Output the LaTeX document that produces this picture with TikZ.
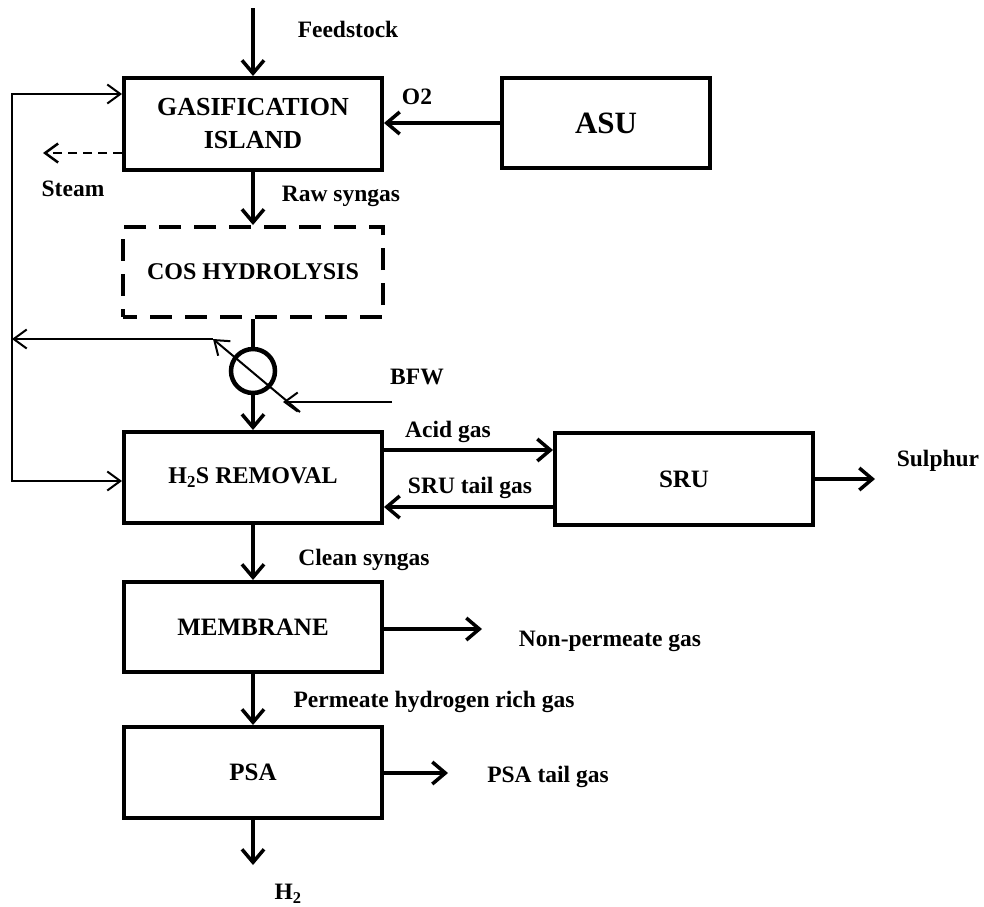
\documentclass[tikz,border=0pt]{standalone}
\usepackage{fontspec}
\setmainfont{Liberation Serif}
\usetikzlibrary{arrows.meta}
\begin{document}
\begin{tikzpicture}[x=1pt,y=-1pt,
  box/.style={draw, line width=4pt, inner sep=0pt, align=center, minimum width=258pt, minimum height=91pt,
    font=\fontsize{25}{33}\selectfont\bfseries},
  lbl/.style={anchor=mid, inner sep=0pt, font=\fontsize{23.5}{28}\selectfont\bfseries},
  flow/.style={line width=3.5pt, -{Straight Barb[length=13pt,width=22pt]}},
  thinflow/.style={line width=2pt, -{Straight Barb[length=13pt,width=19pt]}}]
\useasboundingbox (0,0) rectangle (984,906);

% boxes
\node[box, minimum height=92pt, font=\fontsize{26}{33}\selectfont\bfseries] (gas) at (253,124) {GASIFICATION\\ISLAND};
\node[box, minimum width=208pt, minimum height=90pt, font=\fontsize{31}{36}\selectfont\bfseries] (asu) at (606,123) {ASU};
\node[box, dash pattern=on 22pt off 13pt, dash phase=8pt, minimum width=260pt, minimum height=90pt,
  font=\fontsize{24}{30}\selectfont\bfseries] (cos) at (253,272) {COS HYDROLYSIS};
\node[box, font=\fontsize{24}{30}\selectfont\bfseries] (h2s) at (253,477.5) {H\textsubscript{2}S REMOVAL};
\node[box, minimum height=92pt] (sru) at (684,479) {SRU};
\node[box, minimum height=90pt] (mem) at (253,627) {MEMBRANE};
\node[box] (psa) at (253,772.5) {PSA};
\node[circle, draw, line width=4.5pt, minimum size=44pt, inner sep=0pt] (hx) at (253,371) {};

% coordinates
\coordinate (feedin) at (253,8);
\coordinate (steamend) at (43,153);
\coordinate (dA) at (300,412);
\coordinate (dB) at (213,339);
\coordinate (lt) at (12,94);
\coordinate (lm) at (12,339);
\coordinate (lb) at (12,481);
\coordinate (bfw) at (392,402);
\coordinate (bfwtip) at (283,402);
\coordinate (ag) at (470,450);
\coordinate (tg) at (470,507);
\coordinate (sul) at (875,479);
\coordinate (np) at (482,629);
\coordinate (pt) at (448,773);
\coordinate (h2) at (253,865);

% main flows
\draw[flow] (feedin) -- (gas.north);
\draw[flow] (asu.west) -- (gas.east |- asu.west);
\draw[thinflow, line width=2.5pt, dash pattern=on 9pt off 6pt] (gas.west |- steamend) -- (steamend);
\draw[flow] (gas.south) -- (cos.north);
\draw[line width=3.5pt] (cos.south) -- (hx.north);
\draw[flow] (hx.south) -- (h2s.north);
\draw[thinflow] (dA) -- (dB);
\draw[thinflow] (dB) -- (lm);
\draw[line width=2pt, {Straight Barb[length=13pt,width=19pt]}-{Straight Barb[length=13pt,width=19pt]}]
  (gas.west |- lt) -- (lt) -- (lb) -- (h2s.west |- lb);
\draw[thinflow] (bfw) -- (bfwtip);
\draw[flow] (h2s.east |- ag) -- (sru.west |- ag);
\draw[flow] (sru.west |- tg) -- (h2s.east |- tg);
\draw[flow] (sru.east |- sul) -- (sul);
\draw[flow] (h2s.south) -- (mem.north);
\draw[flow] (mem.east |- np) -- (np);
\draw[flow] (mem.south) -- (psa.north);
\draw[flow] (psa.east |- pt) -- (pt);
\draw[flow] (psa.south) -- (h2);

% labels
\node[lbl] (lfeed) at (348,35) {Feedstock};
\node[lbl] (lo2) at (417,102) {O2};
\node[lbl] (lsteam) at (73,194) {Steam};
\node[lbl] (lraw) at (341,199) {Raw syngas};
\node[lbl] (lbfw) at (417,382) {BFW};
\node[lbl] (lacid) at (448,435) {Acid gas};
\node[lbl] (ltail) at (470,491) {SRU tail gas};
\node[lbl] (lsul) at (938,464) {Sulphur};
\node[lbl] (lclean) at (364,563) {Clean syngas};
\node[lbl] (lnp) at (610,644) {Non-permeate gas};
\node[lbl] (lperm) at (434,705) {Permeate hydrogen rich gas};
\node[lbl] (lpsat) at (548,780) {PSA tail gas};
\node[lbl] (lh2) at (288,897) {H\textsubscript{2}};
\end{tikzpicture}
\end{document}
